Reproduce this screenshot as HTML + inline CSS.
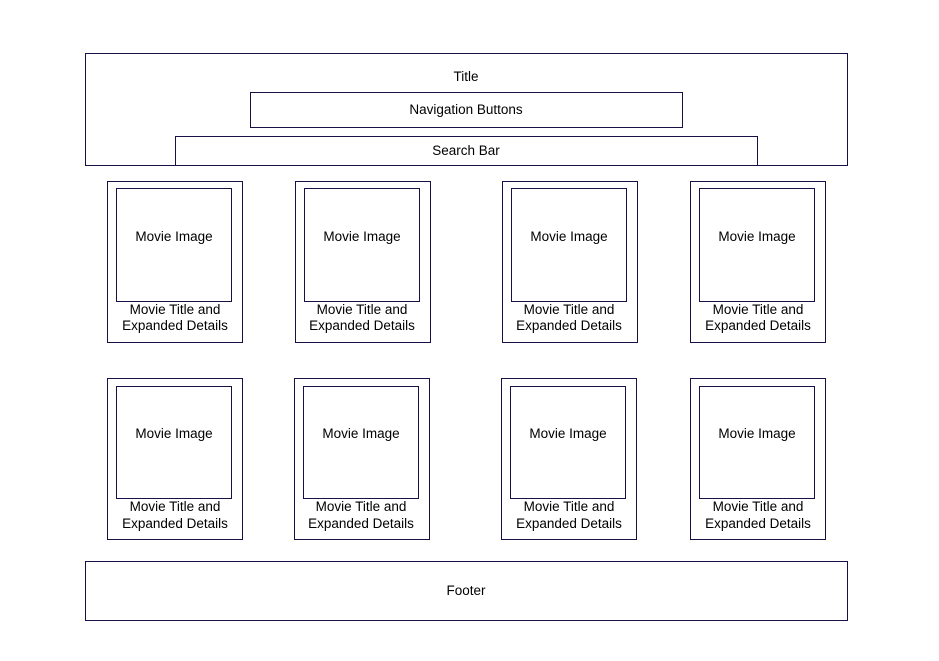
<!DOCTYPE html>
<html><head><meta charset="utf-8"><style>
html,body{margin:0;padding:0;background:#fff;width:939px;height:661px;overflow:hidden}
text{font-family:"Liberation Sans",Arial,sans-serif;font-size:13.5px;fill:#000;text-anchor:middle}
rect{fill:#fff;stroke:#1a1046;stroke-width:1}
</style></head><body>
<svg width="939" height="661" xmlns="http://www.w3.org/2000/svg">
<rect x="85.5" y="53.5" width="762" height="112"/>
<text x="466" y="81">Title</text>
<rect x="250.5" y="92.5" width="432" height="35"/>
<text x="466" y="114">Navigation Buttons</text>
<rect x="175.5" y="136.5" width="582" height="29"/>
<text x="466" y="155">Search Bar</text>

<g>
<rect x="107.5" y="181.5" width="135" height="161"/><rect x="116.5" y="188.5" width="115" height="113"/>
<text x="174" y="241">Movie Image</text><text x="175" y="314">Movie Title and</text><text x="175" y="330">Expanded Details</text>
<rect x="295.5" y="181.5" width="135" height="161"/><rect x="304.5" y="188.5" width="115" height="113"/>
<text x="362" y="241">Movie Image</text><text x="362" y="314">Movie Title and</text><text x="362" y="330">Expanded Details</text>
<rect x="502.5" y="181.5" width="135" height="161"/><rect x="511.5" y="188.5" width="115" height="113"/>
<text x="569" y="241">Movie Image</text><text x="569" y="314">Movie Title and</text><text x="569" y="330">Expanded Details</text>
<rect x="690.5" y="181.5" width="135" height="161"/><rect x="699.5" y="188.5" width="115" height="113"/>
<text x="757" y="241">Movie Image</text><text x="758" y="314">Movie Title and</text><text x="758" y="330">Expanded Details</text>

<rect x="107.5" y="378.5" width="135" height="161"/><rect x="116.5" y="386.5" width="115" height="112"/>
<text x="174" y="438">Movie Image</text><text x="175" y="511">Movie Title and</text><text x="175" y="528">Expanded Details</text>
<rect x="294.5" y="378.5" width="135" height="161"/><rect x="303.5" y="386.5" width="115" height="112"/>
<text x="361" y="438">Movie Image</text><text x="361" y="511">Movie Title and</text><text x="361" y="528">Expanded Details</text>
<rect x="501.5" y="378.5" width="135" height="161"/><rect x="510.5" y="386.5" width="115" height="112"/>
<text x="568" y="438">Movie Image</text><text x="569" y="511">Movie Title and</text><text x="569" y="528">Expanded Details</text>
<rect x="690.5" y="378.5" width="135" height="161"/><rect x="699.5" y="386.5" width="115" height="112"/>
<text x="757" y="438">Movie Image</text><text x="758" y="511">Movie Title and</text><text x="758" y="528">Expanded Details</text>
</g>

<rect x="85.5" y="561.5" width="762" height="59"/>
<text x="466" y="595">Footer</text>
</svg>
</body></html>
